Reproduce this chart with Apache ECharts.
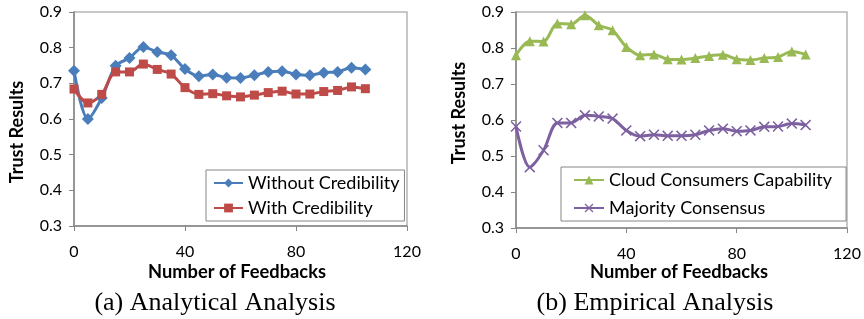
<!DOCTYPE html>
<html>
<head>
<meta charset="utf-8">
<script src="https://cdn.jsdelivr.net/npm/echarts@6/dist/echarts.min.js"></script>
<style>
  html, body { margin: 0; padding: 0; background: #fff; }
  #chart { width: 864px; height: 319px; }
</style>
</head>
<body>
<div id="chart"></div>
<script>
// Number of feedbacks (shared x values)
const feedbacks = [0, 5, 10, 15, 20, 25, 30, 35, 40, 45, 50, 55, 60, 65, 70, 75, 80, 85, 90, 95, 100, 105];

// (a) Analytical Analysis
const withoutCred = [0.735, 0.600, 0.659, 0.749, 0.771, 0.802, 0.788, 0.779, 0.740, 0.720, 0.725, 0.716,
                     0.715, 0.723, 0.732, 0.734, 0.725, 0.723, 0.730, 0.732, 0.744, 0.739];
const withCred = [0.684, 0.645, 0.669, 0.732, 0.732, 0.754, 0.739, 0.726, 0.688, 0.669, 0.671, 0.665,
                  0.662, 0.667, 0.674, 0.678, 0.670, 0.670, 0.677, 0.680, 0.690, 0.685];

// (b) Empirical Analysis
const consumersCap = [0.780, 0.819, 0.818, 0.868, 0.866, 0.891, 0.863, 0.849, 0.803, 0.780, 0.782, 0.769,
                      0.768, 0.772, 0.778, 0.781, 0.769, 0.767, 0.772, 0.775, 0.790, 0.782];
const majority = [0.582, 0.469, 0.516, 0.592, 0.592, 0.613, 0.610, 0.604, 0.571, 0.555, 0.559, 0.556,
                  0.556, 0.559, 0.571, 0.576, 0.569, 0.571, 0.581, 0.582, 0.590, 0.586];

const xTicks = [0, 40, 80, 120];
const yTicks = [0.3, 0.4, 0.5, 0.6, 0.7, 0.8, 0.9];

const FONT = 'Lato';
const crossPath = 'path://M0,1L1,0L5,4L9,0L10,1L6,5L10,9L9,10L5,6L1,10L0,9L4,5Z';

const pair = ys => feedbacks.map((x, i) => [x, ys[i]]);

function xAxisFor(idx) {
  return {
    gridIndex: idx, type: 'value',
    min: xTicks[0], max: xTicks[xTicks.length - 1], interval: 40,
    axisLine: { lineStyle: { color: '#868686', width: 1.5 } },
    axisTick: { length: 5, lineStyle: { color: '#868686' } },
    axisLabel: { margin: 18, fontFamily: FONT, fontSize: 16, color: '#000' },
    splitLine: { show: false }
  };
}
function yAxisFor(idx) {
  return {
    gridIndex: idx, type: 'value',
    min: yTicks[0], max: yTicks[yTicks.length - 1], interval: 0.1,
    axisLine: { show: true, lineStyle: { color: '#868686', width: 1.5 } },
    axisTick: { show: true, length: 5, lineStyle: { color: '#868686' } },
    axisLabel: { margin: 12, fontFamily: FONT, fontSize: 16, color: '#000',
                 formatter: v => v.toFixed(1) },
    splitLine: { show: false }
  };
}

function line(name, data, idx, color, symbol, size) {
  return {
    name, type: 'line', xAxisIndex: idx, yAxisIndex: idx,
    data: pair(data), smooth: 0.3,
    symbol, symbolSize: size,
    lineStyle: { color, width: 3 },
    itemStyle: { color },
    z: 3
  };
}

const legendText = { fontFamily: FONT, fontSize: 18, color: '#000', lineHeight: 18 };

const chart = echarts.init(document.getElementById('chart'));

chart.setOption({
  animation: false,
  backgroundColor: '#fff',
  grid: [
    { left: 74, right: 457, top: 12, bottom: 93, show: true, borderColor: '#b5b5b5', borderWidth: 1.5 },
    { left: 516, right: 17, top: 12, bottom: 91, show: true, borderColor: '#b5b5b5', borderWidth: 1.5 }
  ],
  xAxis: [xAxisFor(0), xAxisFor(1)],
  yAxis: [yAxisFor(0), yAxisFor(1)],
  legend: [
    {
      data: ['Without Credibility', 'With Credibility'],
      orient: 'vertical', left: 206, top: 170,
      itemWidth: 29, itemHeight: 11, itemGap: 7,
      padding: [4, 5, 4, 7],
      borderColor: '#868686', borderWidth: 1,
      textStyle: legendText
    },
    {
      data: ['Cloud Consumers Capability', 'Majority Consensus'],
      orient: 'vertical', left: 561, top: 167,
      itemWidth: 30, itemHeight: 11, itemGap: 10,
      padding: [4, 14, 4, 12],
      borderColor: '#868686', borderWidth: 1,
      textStyle: legendText
    }
  ],
  series: [
    line('Without Credibility', withoutCred, 0, '#4a7ebb', 'diamond', 12),
    line('With Credibility', withCred, 0, '#be4b48', 'rect', 9),
    line('Cloud Consumers Capability', consumersCap, 1, '#98b954', 'triangle', 10),
    line('Majority Consensus', majority, 1, '#7d60a0', crossPath, 11)
  ],
  graphic: [
    { type: 'text', x: 17, y: 132, rotation: Math.PI / 2,
      style: { text: 'Trust Results', font: 'bold 18px ' + FONT, fill: '#000', align: 'center', verticalAlign: 'middle' } },
    { type: 'text', x: 459, y: 113, rotation: Math.PI / 2,
      style: { text: 'Trust Results', font: 'bold 18px ' + FONT, fill: '#000', align: 'center', verticalAlign: 'middle' } },
    { type: 'text', x: 237, y: 272,
      style: { text: 'Number of Feedbacks', font: 'bold 18.3px ' + FONT, fill: '#000', align: 'center', verticalAlign: 'middle' } },
    { type: 'text', x: 679, y: 272,
      style: { text: 'Number of Feedbacks', font: 'bold 18.3px ' + FONT, fill: '#000', align: 'center', verticalAlign: 'middle' } },
    { type: 'text', x: 215, y: 303,
      style: { text: '(a) Analytical Analysis', font: '26px "Liberation Serif"', fill: '#000', align: 'center', verticalAlign: 'middle' } },
    { type: 'text', x: 655, y: 303,
      style: { text: '(b) Empirical Analysis', font: '26px "Liberation Serif"', fill: '#000', align: 'center', verticalAlign: 'middle' } }
  ]
});
</script>
</body>
</html>
